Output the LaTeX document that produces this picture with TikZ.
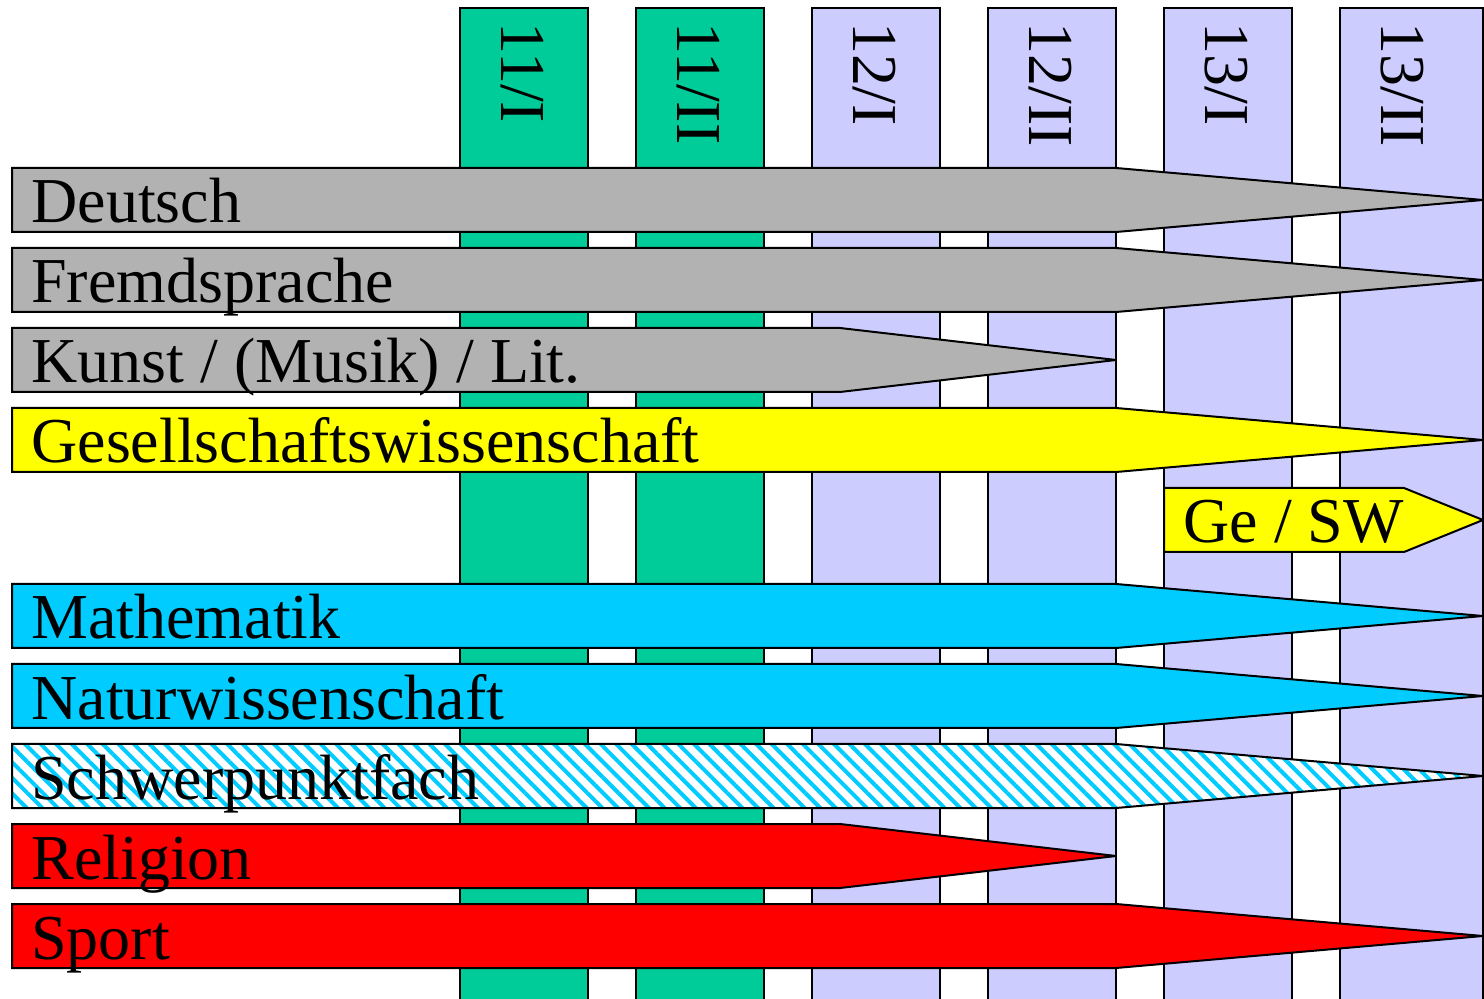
\documentclass[tikz,border=0pt]{standalone}
\usepackage{fontspec}
\setmainfont{Liberation Serif}
\usepackage{tikz}
\usetikzlibrary{patterns,patterns.meta}
\definecolor{halbgruen}{HTML}{00CC99}
\definecolor{halblila}{HTML}{CCCCFF}
\definecolor{fachgrau}{HTML}{B2B2B2}
\definecolor{fachgelb}{HTML}{FFFF00}
\definecolor{fachblau}{HTML}{00CCFF}
\definecolor{fachrot}{HTML}{FF0000}
\newcommand{\planfont}{\fontsize{32}{38}\selectfont}
\tikzstyle{halbjahr}=[draw, line width=1pt]
\tikzstyle{hjlabel}=[rotate=-90, anchor=base west, inner sep=0, font=\planfont]
\tikzstyle{fach}=[draw, line width=1pt, miter limit=4]
\tikzstyle{fachlabel}=[anchor=base west, inner sep=0, font=\planfont]
\tikzstyle{schwerpunkt}=[fach, preaction={fill=white},
                         pattern={Lines[angle=-45, distance=5.5pt, line width=2pt]},
                         pattern color=fachblau]
\tikzstyle{kursplan}=[x=0.5pt, y=-0.5pt]
% bar: #1 left, #2 top, #3 kink, #4 tip, #5 style, #6 name, #7 text
\newcommand{\fachbar}[7]{%
  \draw[#5] (#1,#2) -- (#3,#2) -- (#4,#2+32) -- (#3,#2+64) -- (#1,#2+64) -- cycle;
  \node[fachlabel] (#6) at (#1+19,#2+55) {#7};}

\begin{document}
\begin{tikzpicture}[kursplan]
    \useasboundingbox (0,0) rectangle (1484,999);
    \clip (0,0) rectangle (1484,999);
    % half years
    \draw[halbjahr, fill=halbgruen] (460,8) rectangle (588,1010);
    \draw[halbjahr, fill=halbgruen] (636,8) rectangle (764,1010);
    \draw[halbjahr, fill=halblila] (812,8) rectangle (940,1010);
    \draw[halbjahr, fill=halblila] (988,8) rectangle (1116,1010);
    \draw[halbjahr, fill=halblila] (1164,8) rectangle (1292,1010);
    \draw[halbjahr, fill=halblila] (1340,8) rectangle (1483,1010);
    \node[hjlabel] (hj11a) at (501,22) {11/I};
    \node[hjlabel] (hj11b) at (677,22) {11/II};
    \node[hjlabel] (hj12a) at (853,22) {12/I};
    \node[hjlabel] (hj12b) at (1029,22) {12/II};
    \node[hjlabel] (hj13a) at (1205,22) {13/I};
    \node[hjlabel] (hj13b) at (1381,22) {13/II};
    % subjects
    \fachbar{12}{168}{1116}{1483}{fach, fill=fachgrau}{deutsch}{Deutsch}
    \fachbar{12}{248}{1116}{1483}{fach, fill=fachgrau}{fremd}{Fremdsprache}
    \fachbar{12}{328}{840}{1116}{fach, fill=fachgrau}{kunst}{Kunst / (Musik) / Lit.}
    \fachbar{12}{408}{1116}{1483}{fach, fill=fachgelb}{gesell}{Gesellschaftswissenschaft}
    \fachbar{1164}{488}{1404}{1483}{fach, fill=fachgelb}{gesw}{Ge / SW}
    \fachbar{12}{584}{1116}{1483}{fach, fill=fachblau}{mathe}{Mathematik}
    \fachbar{12}{664}{1116}{1483}{fach, fill=fachblau}{natur}{Naturwissenschaft}
    \fachbar{12}{744}{1116}{1483}{schwerpunkt}{schwer}{Schwerpunktfach}
    \fachbar{12}{824}{840}{1116}{fach, fill=fachrot}{religion}{Religion}
    \fachbar{12}{904}{1116}{1483}{fach, fill=fachrot}{sport}{Sport}
\end{tikzpicture}
\end{document}
